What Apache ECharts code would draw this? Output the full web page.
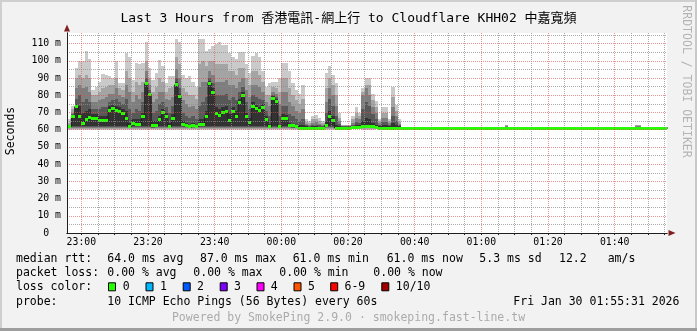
<!DOCTYPE html>
<html><head><meta charset="utf-8">
<script src="https://cdn.jsdelivr.net/npm/echarts@6/dist/echarts.min.js"></script>
<style>html,body{margin:0;padding:0;background:#F2F2F2;}#chart{width:697px;height:331px;}</style>
</head><body><div id="chart"></div>
<script>
// ---------------- DATA ----------------
const chartTitle = 'Last 3 Hours from 香港電訊-網上行 to Cloudflare KHH02 中嘉寬頻';
// x values are minutes after 22:00 (Jan 29). One block per minute, first block starts 22:56.
const firstMinute = 56;
const stepMinutes = 1;
const xStart = 55.7;   // 22:55:42
const xEnd = 235.7;    // 01:55:42

const medianRtt = [
 61.9, 67.4, 73.3, 67.4, 63.5, 65.8, 67.0, 66.3, 66.3, 65.5,
 65.5, 65.5, 71.3, 72.1, 71.3, 70.5, 69.4, 66.6, 61.6, 63.9,
 63.1, 63.1, 67.8, 86.7, 80.3, 62.3, 62.7, 65.8, 70.1, 67.4,
 61.9, 66.8, 86.1, 79.1, 63.1, 62.7, 61.6, 62.7, 61.9, 62.9,
 62.9, 67.4, 87.0, 81.8, 69.4, 68.2, 69.8, 70.5, 65.1, 70.5,
 67.8, 76.0, 79.9, 67.4, 64.3, 73.7, 72.1, 70.9, 72.9, 65.8,
 61.6, 78.3, 76.6, 61.6, 66.6, 66.3, 62.7, 62.3, 61.9, 61.0,
 61.0, 61.0, 61.0, 61.0, 61.0, 61.0, 61.0, 62.5, 67.4, 65.5,
 61.0, 61.0, 61.0, 61.0, 61.0, 61.5, 61.5, 61.5, 61.9, 61.9,
 61.9, 61.9, 61.5, 61.0, 61.0, 61.0, 61.0, 61.0, 61.0, 61.0,
 61.0, 61.0, 61.0, 61.0, 61.0, 61.0, 61.0, 61.0, 61.0, 61.0, 61.0, 61.0, 61.0, 61.0, 61.0, 61.0, 61.0, 61.0, 61.0, 61.0,
 61.0, 61.0, 61.0, 61.0, 61.0, 61.0, 61.0, 61.0, 61.0, 61.0, 61.0, 61.0, 61.0, 61.0, 61.0, 61.0, 61.0, 61.0, 61.0, 61.0,
 61.0, 61.0, 61.0, 61.0, 61.0, 61.0, 61.0, 61.0, 61.0, 61.0, 61.0, 61.0, 61.0, 61.0, 61.0, 61.0, 61.0, 61.0, 61.0, 61.0,
 61.0, 61.0, 61.0, 61.0, 61.0, 61.0, 61.0, 61.0, 61.0, 61.0, 61.0, 61.0, 61.0, 61.0, 61.0, 61.0, 61.0, 61.0, 61.0, 61.0
];

// sorted pings per minute: pingMin (1st) ... pingMax (10th)
const pingMax = [
 66, 74, 96, 100, 100, 105.8, 101, 83, 85, 88,
 92.5, 92, 91, 90, 100, 87, 87, 104.8, 102, 89,
 99, 98, 99, 110.7, 96, 89, 93, 100.7, 97, 87,
 91, 91, 112.6, 110.7, 92, 90, 91, 88, 85, 112.6,
 113, 106, 107, 108.7, 110, 110.7, 109, 109, 104.8, 102,
 101, 105, 105, 98, 93, 103, 104.8, 102, 94, 85,
 87, 88, 88, 90, 99, 99, 94, 87, 83, 81,
 86, 66, 65, 68, 68.6, 67, 65, 93, 97, 92,
 87, 70, 63, 63, 63, 68, 73, 70, 84, 90,
 90, 80.5, 76.6, 66, 73, 73, 66, 85, 74.6, 66,
 61.8, 61.8, 61.8, 61.8, 61.8, 61.8, 61.8, 61.8, 61.8, 61.8, 61.8, 61.8, 61.8, 61.8, 61.8, 61.8, 61.8, 61.8, 61.8, 61.8,
 61.8, 61.8, 61.8, 61.8, 61.8, 61.8, 61.8, 61.8, 61.8, 61.8, 61.8, 63.0, 61.8, 61.8, 61.8, 61.8, 61.8, 61.8, 61.8, 61.8,
 61.8, 61.8, 61.8, 61.8, 61.8, 61.8, 61.8, 61.8, 61.8, 61.8, 61.8, 61.8, 61.8, 61.8, 61.8, 61.8, 61.8, 61.8, 61.8, 61.8,
 61.8, 61.8, 61.8, 61.8, 61.8, 61.8, 61.8, 61.8, 61.8, 61.8, 63.0, 63.0, 61.8, 61.8, 61.8, 61.8, 61.8, 61.8, 61.8, 61.8
];
const ping9 = [
 64, 72, 90, 92, 90, 92, 90, 80, 80, 82,
 84, 85, 86, 86, 90, 84, 83, 94, 90, 82,
 88, 86, 88, 100, 90, 82, 85, 90, 88, 82,
 84, 85, 102, 98, 84, 82, 80, 80, 78, 98,
 100, 97, 100, 100, 98, 98, 98, 98, 94, 94,
 92, 96, 96, 90, 86, 94, 94, 92, 88, 80,
 80, 85, 84, 82, 90, 90, 84, 80, 77, 75,
 78, 64.5, 64, 66, 66, 65, 64, 84, 90, 86,
 80, 67, 62.5, 62.5, 62.5, 66, 70, 68, 82, 86,
 86, 77, 73, 65, 70, 70, 65, 79, 71, 64.5,
 61.6, 61.6, 61.6, 61.6, 61.6, 61.6, 61.6, 61.6, 61.6, 61.6, 61.6, 61.6, 61.6, 61.6, 61.6, 61.6, 61.6, 61.6, 61.6, 61.6,
 61.6, 61.6, 61.6, 61.6, 61.6, 61.6, 61.6, 61.6, 61.6, 61.6, 61.6, 62.6, 61.6, 61.6, 61.6, 61.6, 61.6, 61.6, 61.6, 61.6,
 61.6, 61.6, 61.6, 61.6, 61.6, 61.6, 61.6, 61.6, 61.6, 61.6, 61.6, 61.6, 61.6, 61.6, 61.6, 61.6, 61.6, 61.6, 61.6, 61.6,
 61.6, 61.6, 61.6, 61.6, 61.6, 61.6, 61.6, 61.6, 61.6, 61.6, 62.6, 62.6, 61.6, 61.6, 61.6, 61.6, 61.6, 61.6, 61.6, 61.6
];
const ping8 = [
 63, 70, 84, 86, 84, 85, 82, 76, 76, 77,
 78, 79, 81, 81, 84, 80, 79, 86, 82, 76,
 80, 78, 82, 94, 86, 76, 78, 82, 82, 78,
 77, 79, 95, 90, 77, 75, 73, 74, 72, 85,
 88, 88, 94, 92, 88, 88, 88, 89, 86, 86,
 84, 88, 90, 83, 79, 86, 86, 85, 82, 76,
 74, 82, 81, 75, 82, 82, 76, 74, 71, 70,
 72, 63.5, 63, 64, 64.5, 63.5, 63, 76, 84, 80,
 74, 65, 62.2, 62.2, 62.2, 64, 67, 66, 80, 84,
 80, 73, 70, 64, 67, 67, 64, 73, 68, 63.5,
 61.4, 61.4, 61.4, 61.4, 61.4, 61.4, 61.4, 61.4, 61.4, 61.4, 61.4, 61.4, 61.4, 61.4, 61.4, 61.4, 61.4, 61.4, 61.4, 61.4,
 61.4, 61.4, 61.4, 61.4, 61.4, 61.4, 61.4, 61.4, 61.4, 61.4, 61.4, 62.2, 61.4, 61.4, 61.4, 61.4, 61.4, 61.4, 61.4, 61.4,
 61.4, 61.4, 61.4, 61.4, 61.4, 61.4, 61.4, 61.4, 61.4, 61.4, 61.4, 61.4, 61.4, 61.4, 61.4, 61.4, 61.4, 61.4, 61.4, 61.4,
 61.4, 61.4, 61.4, 61.4, 61.4, 61.4, 61.4, 61.4, 61.4, 61.4, 62.2, 62.2, 61.4, 61.4, 61.4, 61.4, 61.4, 61.4, 61.4, 61.4
];
const ping7 = [
 62.5, 69, 78, 80, 76, 78, 76, 72, 72, 72,
 73, 73, 76, 77, 78, 76, 75, 78, 72, 70,
 72, 71, 76, 90, 83, 70, 71, 75, 76, 73,
 70, 74, 90, 84, 70, 68, 67, 68, 66, 74,
 76, 79, 90, 87, 80, 80, 80, 81, 77, 79,
 77, 82, 85, 76, 72, 80, 79, 78, 77, 71,
 68, 80, 79, 68, 74, 74, 69, 68, 66, 65,
 66, 62.5, 62.3, 63, 63, 62.5, 62.3, 70, 78, 74,
 68, 63.5, 61.9, 61.9, 61.9, 63, 64.5, 64, 72, 76,
 74, 69, 66, 63, 64.5, 64.5, 63, 68, 65, 62.5,
 61.3, 61.3, 61.3, 61.3, 61.3, 61.3, 61.3, 61.3, 61.3, 61.3, 61.3, 61.3, 61.3, 61.3, 61.3, 61.3, 61.3, 61.3, 61.3, 61.3,
 61.3, 61.3, 61.3, 61.3, 61.3, 61.3, 61.3, 61.3, 61.3, 61.3, 61.3, 61.8, 61.3, 61.3, 61.3, 61.3, 61.3, 61.3, 61.3, 61.3,
 61.3, 61.3, 61.3, 61.3, 61.3, 61.3, 61.3, 61.3, 61.3, 61.3, 61.3, 61.3, 61.3, 61.3, 61.3, 61.3, 61.3, 61.3, 61.3, 61.3,
 61.3, 61.3, 61.3, 61.3, 61.3, 61.3, 61.3, 61.3, 61.3, 61.3, 61.8, 61.8, 61.3, 61.3, 61.3, 61.3, 61.3, 61.3, 61.3, 61.3
];
const ping6 = [
 62.2, 68.5, 75, 74, 70, 71, 72, 69, 69, 68,
 68, 68, 73.5, 74.5, 74, 73, 72, 71, 64, 66,
 66, 66, 70, 88, 81.5, 65, 65, 68, 72, 69.5,
 64, 69, 88, 81, 65, 64, 63, 64, 63, 66,
 66, 71, 88.5, 84, 73, 72, 73, 74, 69, 73,
 71, 78, 82, 70, 67, 76, 74.5, 73, 75, 68,
 63.5, 79.5, 78, 63, 69, 68.5, 64, 63.5, 63, 62.5,
 62.5, 62, 61.8, 62, 62, 61.8, 61.8, 65, 71, 68,
 63, 62.3, 61.6, 61.6, 61.6, 62, 62.5, 62.5, 65, 67,
 66, 64, 63, 62, 62.5, 62.5, 62, 64, 62.5, 62,
 61.2, 61.2, 61.2, 61.2, 61.2, 61.2, 61.2, 61.2, 61.2, 61.2, 61.2, 61.2, 61.2, 61.2, 61.2, 61.2, 61.2, 61.2, 61.2, 61.2,
 61.2, 61.2, 61.2, 61.2, 61.2, 61.2, 61.2, 61.2, 61.2, 61.2, 61.2, 61.5, 61.2, 61.2, 61.2, 61.2, 61.2, 61.2, 61.2, 61.2,
 61.2, 61.2, 61.2, 61.2, 61.2, 61.2, 61.2, 61.2, 61.2, 61.2, 61.2, 61.2, 61.2, 61.2, 61.2, 61.2, 61.2, 61.2, 61.2, 61.2,
 61.2, 61.2, 61.2, 61.2, 61.2, 61.2, 61.2, 61.2, 61.2, 61.2, 61.5, 61.5, 61.2, 61.2, 61.2, 61.2, 61.2, 61.2, 61.2, 61.2
];
const ping5 = [
 61.4, 62.2, 62.2, 62.2, 62.2, 62.2, 62.2, 62.2, 62.2, 62.2,
 62.2, 62.2, 62.2, 62.2, 62.2, 62.2, 62.2, 62.2, 61.4, 62.2,
 62.2, 62.2, 62.2, 62.2, 62.2, 61.4, 62.2, 62.2, 62.2, 62.2,
 61.4, 62.2, 62.2, 62.2, 62.2, 62.2, 61.4, 62.2, 61.4, 62.2,
 62.2, 62.2, 62.2, 62.2, 62.2, 62.2, 62.2, 62.2, 62.2, 62.2,
 62.2, 62.2, 62.2, 62.2, 62.2, 62.2, 62.2, 62.2, 62.2, 62.2,
 61.4, 62.2, 62.2, 61.4, 62.2, 62.2, 62.2, 61.4, 61.4, 60.9,
 60.9, 60.9, 60.9, 60.9, 60.9, 60.9, 60.9, 62.2, 62.2, 62.2,
 60.9, 60.9, 60.9, 60.9, 60.9, 60.9, 60.9, 60.9, 61.4, 61.4,
 61.4, 61.4, 60.9, 60.9, 60.9, 60.9, 60.9, 60.9, 60.9, 60.9,
 61.0, 61.0, 61.0, 61.0, 61.0, 61.0, 61.0, 61.0, 61.0, 61.0, 61.0, 61.0, 61.0, 61.0, 61.0, 61.0, 61.0, 61.0, 61.0, 61.0,
 61.0, 61.0, 61.0, 61.0, 61.0, 61.0, 61.0, 61.0, 61.0, 61.0, 61.0, 61.0, 61.0, 61.0, 61.0, 61.0, 61.0, 61.0, 61.0, 61.0,
 61.0, 61.0, 61.0, 61.0, 61.0, 61.0, 61.0, 61.0, 61.0, 61.0, 61.0, 61.0, 61.0, 61.0, 61.0, 61.0, 61.0, 61.0, 61.0, 61.0,
 61.0, 61.0, 61.0, 61.0, 61.0, 61.0, 61.0, 61.0, 61.0, 61.0, 61.0, 61.0, 61.0, 61.0, 61.0, 61.0, 61.0, 61.0, 61.0, 61.0
];
const ping4 = [
 61.1, 61.4, 61.4, 61.4, 61.4, 61.4, 61.4, 61.4, 61.4, 61.4,
 61.4, 61.4, 61.4, 61.4, 61.4, 61.4, 61.4, 61.4, 61.1, 61.4,
 61.4, 61.4, 61.4, 61.4, 61.4, 61.1, 61.4, 61.4, 61.4, 61.4,
 61.1, 61.4, 61.4, 61.4, 61.4, 61.4, 61.1, 61.4, 61.1, 61.4,
 61.4, 61.4, 61.4, 61.4, 61.4, 61.4, 61.4, 61.4, 61.4, 61.4,
 61.4, 61.4, 61.4, 61.4, 61.4, 61.4, 61.4, 61.4, 61.4, 61.4,
 61.1, 61.4, 61.4, 61.1, 61.4, 61.4, 61.4, 61.1, 61.1, 60.8,
 60.8, 60.8, 60.8, 60.8, 60.8, 60.8, 60.8, 61.4, 61.4, 61.4,
 60.8, 60.8, 60.8, 60.8, 60.8, 60.8, 60.8, 60.8, 61.1, 61.1,
 61.1, 61.1, 60.8, 60.8, 60.8, 60.8, 60.8, 60.8, 60.8, 60.8,
 60.9, 60.9, 60.9, 60.9, 60.9, 60.9, 60.9, 60.9, 60.9, 60.9, 60.9, 60.9, 60.9, 60.9, 60.9, 60.9, 60.9, 60.9, 60.9, 60.9,
 60.9, 60.9, 60.9, 60.9, 60.9, 60.9, 60.9, 60.9, 60.9, 60.9, 60.9, 60.9, 60.9, 60.9, 60.9, 60.9, 60.9, 60.9, 60.9, 60.9,
 60.9, 60.9, 60.9, 60.9, 60.9, 60.9, 60.9, 60.9, 60.9, 60.9, 60.9, 60.9, 60.9, 60.9, 60.9, 60.9, 60.9, 60.9, 60.9, 60.9,
 60.9, 60.9, 60.9, 60.9, 60.9, 60.9, 60.9, 60.9, 60.9, 60.9, 60.9, 60.9, 60.9, 60.9, 60.9, 60.9, 60.9, 60.9, 60.9, 60.9
];
const ping3 = [
 60.8, 60.8, 60.8, 60.8, 60.8, 60.8, 60.8, 60.8, 60.8, 60.8,
 60.8, 60.8, 60.8, 60.8, 60.8, 60.8, 60.8, 60.8, 60.8, 60.8,
 60.8, 60.8, 60.8, 60.8, 60.8, 60.8, 60.8, 60.8, 60.8, 60.8,
 60.8, 60.8, 60.8, 60.8, 60.8, 60.8, 60.8, 60.8, 60.8, 60.8,
 60.8, 60.8, 60.8, 60.8, 60.8, 60.8, 60.8, 60.8, 60.8, 60.8,
 60.8, 60.8, 60.8, 60.8, 60.8, 60.8, 60.8, 60.8, 60.8, 60.8,
 60.8, 60.8, 60.8, 60.8, 60.8, 60.8, 60.8, 60.8, 60.8, 60.6,
 60.6, 60.6, 60.6, 60.6, 60.6, 60.6, 60.6, 60.8, 60.8, 60.8,
 60.6, 60.6, 60.6, 60.6, 60.6, 60.6, 60.6, 60.6, 60.8, 60.8,
 60.8, 60.8, 60.6, 60.6, 60.6, 60.6, 60.6, 60.6, 60.6, 60.6,
 60.8, 60.8, 60.8, 60.8, 60.8, 60.8, 60.8, 60.8, 60.8, 60.8, 60.8, 60.8, 60.8, 60.8, 60.8, 60.8, 60.8, 60.8, 60.8, 60.8,
 60.8, 60.8, 60.8, 60.8, 60.8, 60.8, 60.8, 60.8, 60.8, 60.8, 60.8, 60.8, 60.8, 60.8, 60.8, 60.8, 60.8, 60.8, 60.8, 60.8,
 60.8, 60.8, 60.8, 60.8, 60.8, 60.8, 60.8, 60.8, 60.8, 60.8, 60.8, 60.8, 60.8, 60.8, 60.8, 60.8, 60.8, 60.8, 60.8, 60.8,
 60.8, 60.8, 60.8, 60.8, 60.8, 60.8, 60.8, 60.8, 60.8, 60.8, 60.8, 60.8, 60.8, 60.8, 60.8, 60.8, 60.8, 60.8, 60.8, 60.8
];
const ping2 = [
 60.4, 60.3, 60.3, 60.3, 60.3, 60.3, 60.3, 60.3, 60.3, 60.3,
 60.3, 60.3, 60.3, 60.3, 60.3, 60.3, 60.3, 60.3, 60.4, 60.3,
 60.3, 60.3, 60.3, 60.3, 60.3, 60.4, 60.3, 60.3, 60.3, 60.3,
 60.4, 60.3, 60.3, 60.3, 60.3, 60.3, 60.4, 60.3, 60.4, 60.3,
 60.3, 60.3, 60.3, 60.3, 60.3, 60.3, 60.3, 60.3, 60.3, 60.3,
 60.3, 60.3, 60.3, 60.3, 60.3, 60.3, 60.3, 60.3, 60.3, 60.3,
 60.4, 60.3, 60.3, 60.4, 60.3, 60.3, 60.3, 60.4, 60.4, 60.4,
 60.4, 60.4, 60.4, 60.4, 60.4, 60.4, 60.4, 60.3, 60.3, 60.3,
 60.4, 60.4, 60.4, 60.4, 60.4, 60.4, 60.4, 60.4, 60.4, 60.4,
 60.4, 60.4, 60.4, 60.4, 60.4, 60.4, 60.4, 60.4, 60.4, 60.4,
 60.7, 60.7, 60.7, 60.7, 60.7, 60.7, 60.7, 60.7, 60.7, 60.7, 60.7, 60.7, 60.7, 60.7, 60.7, 60.7, 60.7, 60.7, 60.7, 60.7,
 60.7, 60.7, 60.7, 60.7, 60.7, 60.7, 60.7, 60.7, 60.7, 60.7, 60.7, 60.7, 60.7, 60.7, 60.7, 60.7, 60.7, 60.7, 60.7, 60.7,
 60.7, 60.7, 60.7, 60.7, 60.7, 60.7, 60.7, 60.7, 60.7, 60.7, 60.7, 60.7, 60.7, 60.7, 60.7, 60.7, 60.7, 60.7, 60.7, 60.7,
 60.7, 60.7, 60.7, 60.7, 60.7, 60.7, 60.7, 60.7, 60.7, 60.7, 60.7, 60.7, 60.7, 60.7, 60.7, 60.7, 60.7, 60.7, 60.7, 60.7
];
const pingMin = [
 60.0, 59.8, 59.8, 59.8, 59.8, 59.8, 59.8, 59.8, 59.8, 59.8,
 59.8, 59.8, 59.8, 59.8, 59.8, 59.8, 59.8, 59.8, 60.0, 59.8,
 59.8, 59.8, 59.8, 59.8, 59.8, 60.0, 59.8, 59.8, 59.8, 59.8,
 60.0, 59.8, 59.8, 59.8, 59.8, 59.8, 60.0, 59.8, 60.0, 59.8,
 59.8, 59.8, 59.8, 59.8, 59.8, 59.8, 59.8, 59.8, 59.8, 59.8,
 59.8, 59.8, 59.8, 59.8, 59.8, 59.8, 59.8, 59.8, 59.8, 59.8,
 60.0, 59.8, 59.8, 60.0, 59.8, 59.8, 59.8, 60.0, 60.0, 60.2,
 60.2, 60.2, 60.2, 60.2, 60.2, 60.2, 60.2, 59.8, 59.8, 59.8,
 60.2, 60.2, 60.2, 60.2, 60.2, 60.2, 60.2, 60.2, 60.0, 60.0,
 60.0, 60.0, 60.2, 60.2, 60.2, 60.2, 60.2, 60.2, 60.2, 60.2,
 60.5, 60.5, 60.5, 60.5, 60.5, 60.5, 60.5, 60.5, 60.5, 60.5, 60.5, 60.5, 60.5, 60.5, 60.5, 60.5, 60.5, 60.5, 60.5, 60.5,
 60.5, 60.5, 60.5, 60.5, 60.5, 60.5, 60.5, 60.5, 60.5, 60.5, 60.5, 60.5, 60.5, 60.5, 60.5, 60.5, 60.5, 60.5, 60.5, 60.5,
 60.5, 60.5, 60.5, 60.5, 60.5, 60.5, 60.5, 60.5, 60.5, 60.5, 60.5, 60.5, 60.5, 60.5, 60.5, 60.5, 60.5, 60.5, 60.5, 60.5,
 60.5, 60.5, 60.5, 60.5, 60.5, 60.5, 60.5, 60.5, 60.5, 60.5, 60.5, 60.5, 60.5, 60.5, 60.5, 60.5, 60.5, 60.5, 60.5, 60.5
];

// axis ticks (minutes after 22:00) and labels
const xGridTicks = [60,65,70,75,80,85,90,95,100,105,110,115,120,125,130,135,140,145,150,155,160,165,170,175,180,185,190,195,200,205,210,215,220,225,230,235];
const xMajorTicks = [60,80,100,120,140,160,180,200,220];
const xTickLabels = ['23:00','23:20','23:40','00:00','00:20','00:40','01:00','01:20','01:40'];
const yGridTicks = [0,5,10,15,20,25,30,35,40,45,50,55,60,65,70,75,80,85,90,95,100,105,110,115];
const yLabelTicks = [0,10,20,30,40,50,60,70,80,90,100,110];
const yMin = 0, yMax = 116.2;

// legend texts
const medianStats = ['64.0 ms avg','87.0 ms max','61.0 ms min','61.0 ms now','5.3 ms sd','12.2','am/s'];
const lossStats = ['0.00 % avg','0.00 % max','0.00 % min','0.00 % now'];
const lossColorLabels = ['0','1','2','3','4','5','6-9','10/10'];
const lossColors = ['#26ff00','#00b8ff','#0059ff','#7e00ff','#ff00ff','#ff5500','#ff0000','#a10000'];
const probeText = '10 ICMP Echo Pings (56 Bytes) every 60s';
const dateText = 'Fri Jan 30 01:55:31 2026';
const footerText = 'Powered by SmokePing 2.9.0 · smokeping.fast-line.tw';
const yAxisName = 'Seconds';
const watermark = 'RRDTOOL / TOBI OETIKER';

// ---------------- STYLE / LAYOUT ----------------
const MONO = '"DejaVu Sans Mono", monospace';
const TITLE_FONT = '"DejaVu Sans Mono", "Noto Sans CJK TC", monospace';
const LEG_FONT = '11.5px "DejaVu Sans Mono", monospace';
const AXISC = '#1F1F1F', ARROWC = '#801F1F';
const GRIDC = 'rgba(143,143,143,0.75)', MGRIDC = 'rgba(222,79,79,0.6)';
const smokeColors = ['#CACACA','#A4A4A4','#7E7E7E','#585858','#323232'];
const MEDIAN_H = 3;

const statX = [107.3, 200, 292.7, 386.7, 479.3, 559, 607.7];
const lossX = [107.3, 193.3, 279.3, 373.3];
const boxX = [108, 145.5, 182.7, 219.7, 256.5, 293.5, 330.2, 381.3];
const boxLabelX = [122.8, 160, 196.9, 234, 270.8, 308, 344.5, 395.8];
const rowY = [259.3, 273.3, 287.3, 301.7, 318.3];

// ---------------- BUILD ----------------
const smokeData = medianRtt.map((m, i) => [firstMinute + i * stepMinutes,
  pingMin[i], pingMax[i], ping2[i], ping9[i], ping3[i], ping8[i], ping4[i], ping7[i], ping5[i], ping6[i]]);
const medianData = medianRtt.map((m, i) => [firstMinute + i * stepMinutes, m]);
const medianLineData = medianData.concat([[firstMinute + medianRtt.length * stepMinutes, medianRtt[medianRtt.length - 1]]]);

function renderSmoke(params, api) {
  const t = api.value(0);
  const xa = Math.round(api.coord([t, 0])[0]);
  const xb = Math.round(api.coord([t + stepMinutes, 0])[0]);
  const children = [];
  for (let b = 0; b < 5; b++) {
    const lo = api.value(1 + b * 2), hi = api.value(2 + b * 2);
    const y0 = Math.round(api.coord([t, hi])[1]);
    const y1 = Math.round(api.coord([t, lo])[1]);
    children.push({type: 'rect', shape: {x: xa, y: y0, width: xb - xa, height: Math.max(y1 - y0, 0)},
      style: {fill: smokeColors[b]}});
  }
  return {type: 'group', children};
}
function renderMedian(params, api) {
  const t = api.value(0), m = api.value(1);
  const p0 = api.coord([t, m]);
  const xa = Math.round(p0[0]);
  const xb = Math.round(api.coord([t + stepMinutes, m])[0]);
  return {type: 'rect', shape: {x: xa, y: Math.round(p0[1] - MEDIAN_H / 2), width: xb - xa, height: MEDIAN_H},
    style: {fill: lossColors[0]}};
}

function txt(text, x, y, opts) {
  opts = opts || {};
  return {type: 'text', x, y, rotation: opts.rotation || 0, silent: true,
    style: {text, font: opts.font || LEG_FONT, fill: opts.fill || '#000',
      align: opts.align || 'left', textAlign: opts.align || 'left',
      verticalAlign: 'middle', textVerticalAlign: 'middle'}};
}

const graphics = [];
// 3D frame
graphics.push({type: 'rect', shape: {x: 0, y: 0, width: 697, height: 2}, style: {fill: '#CFCFCF'}, silent: true});
graphics.push({type: 'rect', shape: {x: 0, y: 0, width: 2, height: 331}, style: {fill: '#CFCFCF'}, silent: true});
graphics.push({type: 'rect', shape: {x: 695, y: 0, width: 2, height: 331}, style: {fill: '#C8C8C8'}, silent: true});
graphics.push({type: 'rect', shape: {x: 0, y: 328, width: 697, height: 3}, style: {fill: '#9E9E9E'}, silent: true});
// legend rows
graphics.push(txt('median rtt:', 16, rowY[0]));
medianStats.forEach((s, i) => graphics.push(txt(s, statX[i], rowY[0])));
graphics.push(txt('packet loss:', 16, rowY[1]));
lossStats.forEach((s, i) => graphics.push(txt(s, lossX[i], rowY[1])));
graphics.push(txt('loss color:', 16, rowY[2]));
lossColors.forEach((c, i) => {
  graphics.push({type: 'rect', silent: true, shape: {x: boxX[i] + 0.5, y: rowY[2] - 4.5, width: 7, height: 8},
    style: {fill: c, stroke: '#000', lineWidth: 1}});
  graphics.push(txt(lossColorLabels[i], boxLabelX[i], rowY[2]));
});
graphics.push(txt('probe:', 16, rowY[3]));
graphics.push(txt(probeText, 107.3, rowY[3]));
graphics.push(txt(dateText, 513.3, rowY[3]));
graphics.push(txt(footerText, 348.5, rowY[4], {align: 'center', fill: '#ABABAB'}));
graphics.push(txt(yAxisName, 11, 131, {align: 'center', rotation: Math.PI / 2}));
graphics.push(txt(watermark, 686, 81.5, {align: 'center', rotation: -Math.PI / 2, fill: '#B4B4B4'}));

const option = {
  animation: false,
  backgroundColor: '#F2F2F2',
  textStyle: {fontFamily: MONO},
  title: {text: chartTitle, left: 'center', top: 7,
    textStyle: {fontFamily: TITLE_FONT, fontSize: 13, fontWeight: 'normal', color: '#000'}},
  grid: {left: 67, right: 30, top: 33, bottom: 98, show: true, backgroundColor: '#FFFFFF', borderWidth: 0},
  xAxis: [
    {type: 'value', min: xStart, max: xEnd, position: 'bottom', z: 10,
      axisLine: {show: true, onZero: false, lineStyle: {color: AXISC, width: 1}},
      axisTick: {show: true, customValues: xGridTicks, length: 2, lineStyle: {color: AXISC}},
      axisLabel: {show: true, customValues: xMajorTicks, margin: 4, fontFamily: MONO, fontSize: 9.8, color: '#000',
        formatter: v => { const k = xMajorTicks.indexOf(Math.round(v)); return k >= 0 ? xTickLabels[k] : ''; }},
      splitLine: {show: true, lineStyle: {color: [MGRIDC, GRIDC, GRIDC, GRIDC], width: 1, type: [1, 1]}}},
    {type: 'value', min: xStart, max: xEnd, position: 'bottom', z: 9,
      axisLine: {show: true, onZero: false, symbol: ['none', 'triangle'], symbolSize: [6, 7], symbolOffset: [0, 5],
        lineStyle: {color: ARROWC, width: 1}},
      axisTick: {show: false}, axisLabel: {show: false}, splitLine: {show: false}}
  ],
  yAxis: [
    {type: 'value', min: yMin, max: yMax, position: 'left', z: 10,
      axisLine: {show: true, onZero: false, lineStyle: {color: AXISC, width: 1}},
      axisTick: {show: false, customValues: yGridTicks},
      axisLabel: {customValues: yLabelTicks, margin: 6, fontFamily: MONO, fontSize: 9.8, color: '#000',
        formatter: v => (v === 0 ? '0\u00a0\u00a0' : v + ' m')},
      splitLine: {show: true, lineStyle: {color: [MGRIDC, GRIDC], width: 1, type: [1, 1]}}},
    {type: 'value', min: yMin, max: yMax, position: 'left', z: 9,
      axisLine: {show: true, onZero: false, symbol: ['none', 'triangle'], symbolSize: [6, 7], symbolOffset: [0, 5],
        lineStyle: {color: ARROWC, width: 1}},
      axisTick: {show: false}, axisLabel: {show: false}, splitLine: {show: false}}
  ],
  series: [
    {type: 'custom', name: 'smoke', renderItem: renderSmoke, data: smokeData, encode: {x: 0, y: [1, 2]},
      clip: true, z: 2, silent: true, xAxisIndex: 0, yAxisIndex: 0},
    {type: 'line', name: 'median line', data: medianLineData, step: 'end', symbol: 'none', showSymbol: false,
      lineStyle: {color: '#202020', width: 1}, z: 3, silent: true, clip: true, xAxisIndex: 0, yAxisIndex: 0},
    {type: 'custom', name: 'median rtt', renderItem: renderMedian, data: medianData, encode: {x: 0, y: 1},
      clip: true, z: 4, silent: true, xAxisIndex: 0, yAxisIndex: 0}
  ],
  graphic: {elements: graphics}
};
const chart = echarts.init(document.getElementById('chart'), null, {renderer: 'canvas', width: 697, height: 331});
chart.setOption(option);
</script></body></html>
